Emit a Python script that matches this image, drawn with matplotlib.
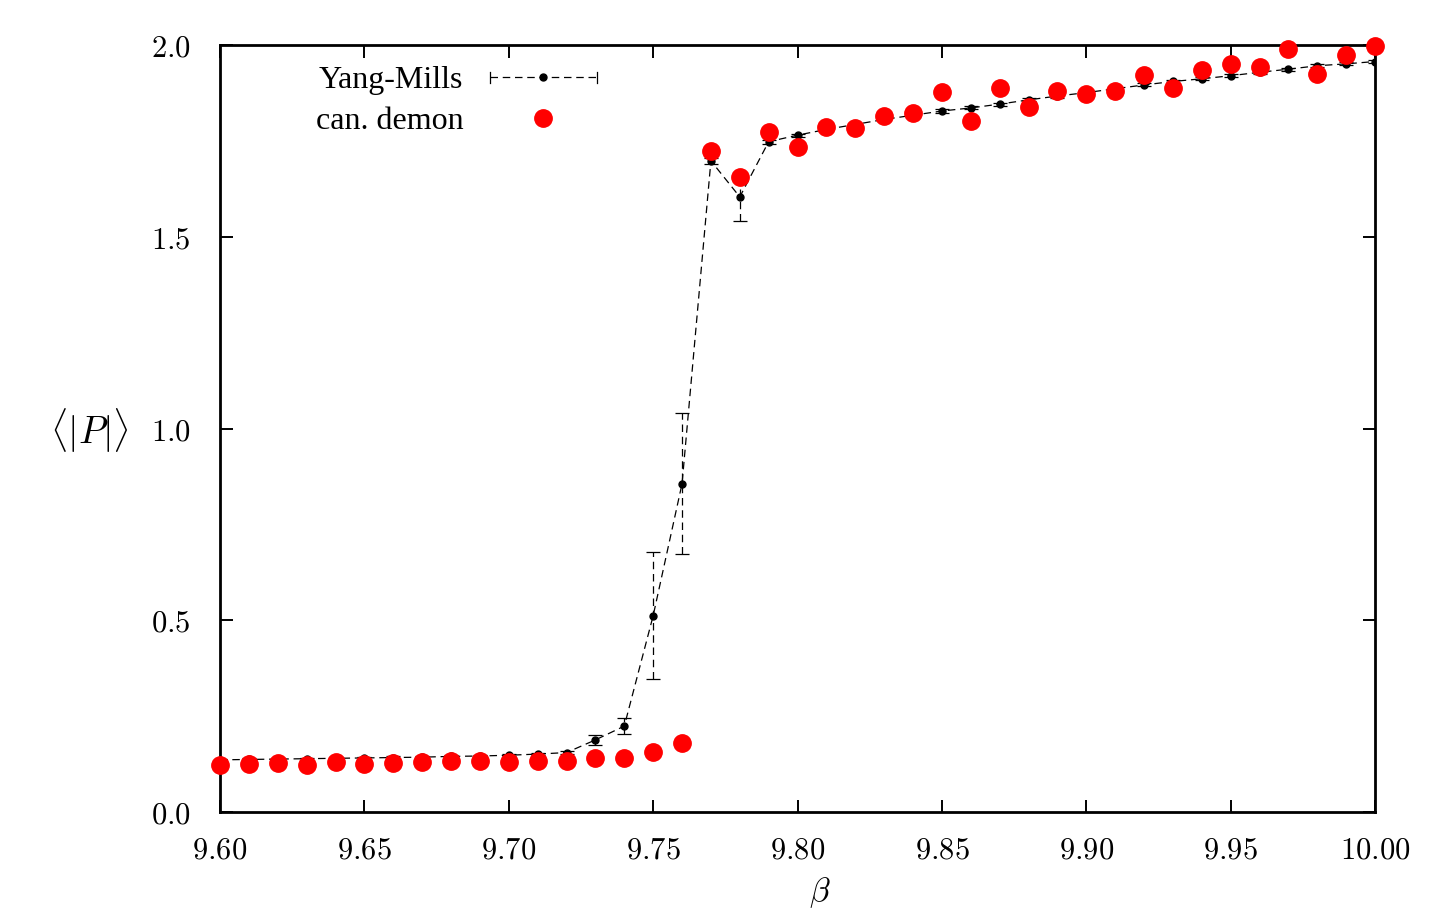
import matplotlib
matplotlib.use('Agg')
import matplotlib.pyplot as plt
from matplotlib.lines import Line2D
from matplotlib.legend_handler import HandlerBase

plt.rcParams['mathtext.fontset'] = 'cm'

# beta values
beta = [9.60, 9.61, 9.62, 9.63, 9.64, 9.65, 9.66, 9.67, 9.68, 9.69,
        9.70, 9.71, 9.72, 9.73, 9.74, 9.75, 9.76, 9.77, 9.78, 9.79,
        9.80, 9.81, 9.82, 9.83, 9.84, 9.85, 9.86, 9.87, 9.88, 9.89,
        9.90, 9.91, 9.92, 9.93, 9.94, 9.95, 9.96, 9.97, 9.98, 9.99, 10.00]

# Yang-Mills <|P|> con errores
ym = [0.136, 0.137, 0.138, 0.139, 0.140, 0.141, 0.142, 0.143, 0.145, 0.146,
      0.148, 0.151, 0.155, 0.188, 0.224, 0.512, 0.856, 1.698, 1.604, 1.748,
      1.765, 1.780, 1.793, 1.806, 1.817, 1.828, 1.836, 1.846, 1.857, 1.867,
      1.876, 1.886, 1.896, 1.905, 1.912, 1.920, 1.929, 1.937, 1.946, 1.951, 1.957]
ym_err = [0.003, 0.003, 0.003, 0.003, 0.003, 0.003, 0.003, 0.003, 0.003, 0.003,
          0.003, 0.003, 0.003, 0.012, 0.020, 0.165, 0.184, 0.008, 0.063, 0.005,
          0.004, 0.004, 0.004, 0.004, 0.004, 0.004, 0.004, 0.004, 0.004, 0.004,
          0.004, 0.004, 0.004, 0.004, 0.004, 0.004, 0.004, 0.004, 0.004, 0.004, 0.004]

# demonio canonico
demon = [0.123, 0.125, 0.127, 0.123, 0.131, 0.124, 0.129, 0.131, 0.133, 0.133,
         0.130, 0.134, 0.134, 0.140, 0.140, 0.156, 0.179, 1.724, 1.657, 1.774,
         1.733, 1.787, 1.784, 1.815, 1.824, 1.877, 1.802, 1.887, 1.839, 1.880,
         1.872, 1.880, 1.922, 1.887, 1.935, 1.950, 1.942, 1.989, 1.924, 1.975, 1.997]

xticks = [9.60, 9.65, 9.70, 9.75, 9.80, 9.85, 9.90, 9.95, 10.00]
yticks = [0.0, 0.5, 1.0, 1.5, 2.0]

dash = (0, (6, 3.8))


# leyenda estilo gnuplot: linea discontinua con topes en los extremos
class ErrLegend(HandlerBase):
    def create_artists(self, legend, orig, xd, yd, w, h, fontsize, trans):
        y = (h - yd) / 2
        x0, x1 = -xd, -xd + w
        c = 4
        arts = [Line2D([x0, x1], [y, y], color='black', lw=0.9, linestyle=dash),
                Line2D([x0, x0], [y - c, y + c], color='black', lw=0.9),
                Line2D([x1, x1], [y - c, y + c], color='black', lw=0.9),
                Line2D([(x0 + x1) / 2], [y], marker='o', ms=5, color='black')]
        for a in arts:
            a.set_transform(trans)
        return arts


fig = plt.figure(figsize=(14.43, 9.10), dpi=100)
ax = fig.add_axes([0.1525, 0.1077, 0.8004, 0.8428])

_, caps, bars = ax.errorbar(beta, ym, yerr=ym_err, fmt='o', ms=5, color='black',
                            ecolor='black', elinewidth=0.9, capsize=5, capthick=0.9,
                            linestyle=dash, lw=0.9, zorder=3)
for b in bars:
    b.set_linestyle((0, (6, 3.8)))
h_dem, = ax.plot(beta, demon, 'o', color='#ff0000', ms=12.5, zorder=4, clip_on=False)

ax.set_xlim(9.60, 10.00)
ax.set_ylim(0.0, 2.0)
ax.set_xticks(xticks, labels=[f'${v:.2f}$' for v in xticks])
ax.set_yticks(yticks, labels=[f'${v:.1f}$' for v in yticks])
ax.tick_params(direction='in', length=9, width=1.4, top=True, right=True,
               labelsize=22)
ax.tick_params(axis='x', pad=17)
ax.tick_params(axis='y', pad=21)
for s in ax.spines.values():
    s.set_linewidth(2.0)

ax.set_xlabel(r'$\beta$', fontsize=24, va='bottom')
ax.xaxis.set_label_coords(0.519, -0.128)
ax.set_ylabel(r'$\langle|P|\rangle$', fontsize=27, rotation=0, ha='center', va='center')
ax.yaxis.set_label_coords(-0.1135, 0.497)

ym_handle = Line2D([], [], color='black')
leg = ax.legend([ym_handle, h_dem], ['Yang-Mills', 'can. demon'],
                handler_map={ym_handle: ErrLegend()},
                loc='upper left', bbox_to_anchor=(0.058, 1.01), frameon=False,
                markerfirst=False, handlelength=3.37, handletextpad=0.82,
                labelspacing=0.34, prop={'family': 'Liberation Serif', 'size': 23})

fig.savefig('out.png', dpi=100)
